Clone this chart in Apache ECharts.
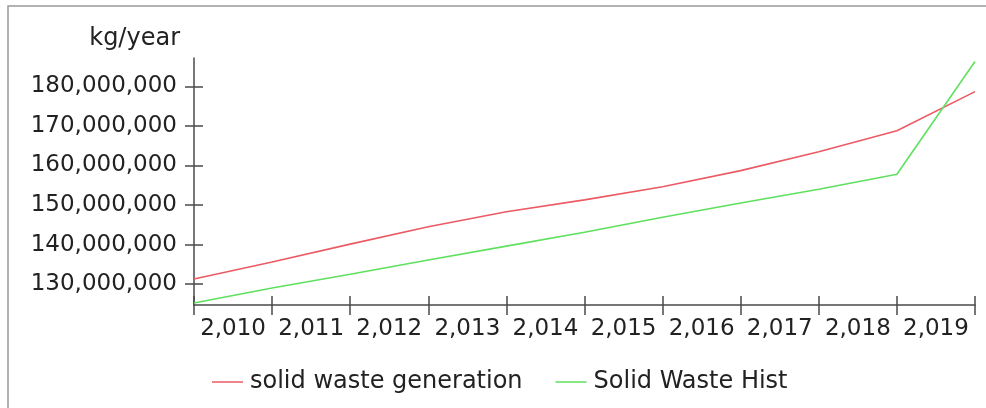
<!DOCTYPE html>
<html>
<head>
<meta charset="utf-8">
<script src="https://cdn.jsdelivr.net/npm/echarts@6/dist/echarts.min.js"></script>
<style>
  html, body { margin: 0; padding: 0; background: #fff; }
  #chart { width: 986px; height: 408px; }
</style>
</head>
<body>
<div id="chart"></div>
<script>
  // data
  var years = [2010, 2011, 2012, 2013, 2014, 2015, 2016, 2017, 2018, 2019, 2020];
  var tickLabels = ['2,010', '2,011', '2,012', '2,013', '2,014', '2,015', '2,016', '2,017', '2,018', '2,019'];
  var generation = [131300000, 135600000, 140100000, 144500000, 148300000, 151300000, 154600000, 158700000, 163500000, 168800000, 178700000];
  var hist = [125200000, 129000000, 132500000, 136100000, 139600000, 143100000, 146900000, 150500000, 154000000, 157800000, 186300000];
  var yTicks = [130000000, 140000000, 150000000, 160000000, 170000000, 180000000];

  var font = 'DejaVu Sans';
  var axisColor = '#4a4a4a';

  function pairs(vals) {
    return vals.map(function (v, i) { return [years[i], v]; });
  }

  var myChart = echarts.init(document.getElementById('chart'));

  var option = {
    backgroundColor: '#fff',
    animation: false,
    graphic: [{
      type: 'rect',
      shape: { x: 8, y: 6, width: 1000, height: 440 },
      style: { fill: 'none', stroke: '#999', lineWidth: 1.5 }
    }],
    grid: { left: 194, right: 11, top: 58, bottom: 103 },
    legend: {
      left: 212,
      top: 370,
      padding: 0,
      icon: 'rect',
      itemWidth: 31,
      itemHeight: 1.5,
      itemGap: 33,
      textStyle: { fontFamily: font, fontSize: 24, color: '#222', padding: [0, 0, 0, 2] },
      data: ['solid waste generation', 'Solid Waste Hist']
    },
    xAxis: [{
      type: 'value',
      min: 2010,
      max: 2020,
      position: 'bottom',
      splitLine: { show: false },
      axisLine: { lineStyle: { color: axisColor, width: 1.5 } },
      axisTick: { length: 10, customValues: years, lineStyle: { color: axisColor, width: 1.5 } },
      axisLabel: {
        customValues: years.slice(0, 10).map(function (y) { return y + 0.5; }),
        formatter: function (v) { return tickLabels[Math.floor(v) - 2010]; },
        fontFamily: font,
        fontSize: 23,
        color: '#222',
        margin: 13
      }
    }, {
      // inner half of the crossing ticks
      type: 'value',
      min: 2010,
      max: 2020,
      position: 'bottom',
      splitLine: { show: false },
      axisLine: { show: false },
      axisTick: { inside: true, length: 9, customValues: years, lineStyle: { color: axisColor, width: 1.5 } },
      axisLabel: { show: false }
    }],
    yAxis: [{
      type: 'value',
      min: 124700000,
      max: 187200000,
      name: 'kg/year',
      nameLocation: 'end',
      nameGap: 7,
      nameTextStyle: { fontFamily: font, fontSize: 24, color: '#222', align: 'right', padding: [0, 14, 0, 0] },
      splitLine: { show: false },
      axisLine: { show: true, lineStyle: { color: axisColor, width: 1.5 } },
      axisTick: { show: true, length: 9, customValues: yTicks, lineStyle: { color: axisColor, width: 1.5 } },
      axisLabel: {
        customValues: yTicks,
        formatter: function (v) { return v.toLocaleString('en-US'); },
        fontFamily: font,
        fontSize: 23,
        color: '#222',
        margin: 17
      }
    }, {
      type: 'value',
      min: 124700000,
      max: 187200000,
      position: 'left',
      splitLine: { show: false },
      axisLine: { show: false },
      axisTick: { show: true, inside: true, length: 9, customValues: yTicks, lineStyle: { color: axisColor, width: 1.5 } },
      axisLabel: { show: false }
    }],
    series: [{
      name: 'solid waste generation',
      type: 'line',
      symbol: 'none',
      itemStyle: { color: '#ec5a64' },
      lineStyle: { color: '#ec5a64', width: 1.6 },
      data: pairs(generation)
    }, {
      name: 'Solid Waste Hist',
      type: 'line',
      symbol: 'none',
      itemStyle: { color: '#5fe05f' },
      lineStyle: { color: '#5fe05f', width: 1.6 },
      data: pairs(hist)
    }]
  };

  myChart.setOption(option);
</script>
</body>
</html>
